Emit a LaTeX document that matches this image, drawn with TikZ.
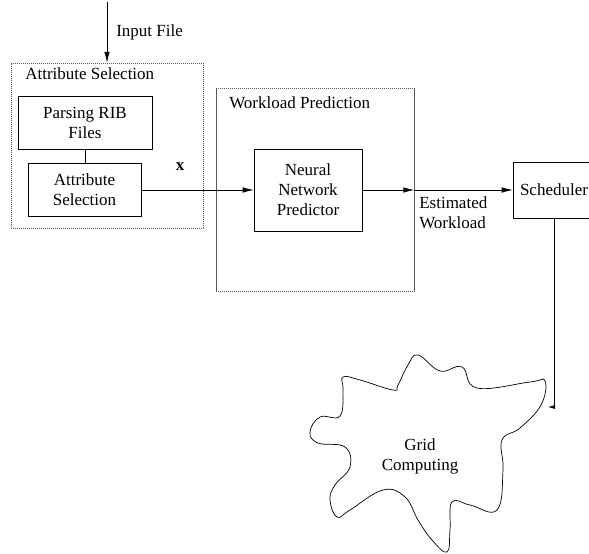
\documentclass[tikz,border=0pt]{standalone}
\usepackage{fontspec}
\setmainfont{Liberation Serif}
\usepackage{tikz}
\usetikzlibrary{calc,positioning,arrows.meta}

\begin{document}
\begin{tikzpicture}[
  x=1pt, y=-1pt,
  line width=0.6pt,
  procbox/.style={
    rectangle, draw, align=center, inner sep=2pt,
    font=\fontsize{17}{20}\selectfont,
  },
  groupbox/.style={
    rectangle, draw=black!65, line width=0.5pt,
    dash pattern=on 1.3pt off 0.7pt,
  },
  grouptitle/.style={anchor=west, inner sep=0pt, font=\fontsize{17}{20}\selectfont},
  flowlabel/.style={inner sep=0pt, font=\fontsize{17}{20}\selectfont},
  flow/.style={-{Latex[length=11pt,width=5.5pt]}},
]
\useasboundingbox (0,0) rectangle (589,554);
\clip (0,0) rectangle (589,554);

% Attribute selection group
\node[groupbox, minimum width=192pt, minimum height=165pt] (asgroup) at (107,145.5) {};
\node[grouptitle] (astitle) at (25,74) {Attribute Selection};
\node[procbox, minimum width=134pt, minimum height=53pt] (parse) at (85,122.5) {Parsing RIB\\Files};
\node[procbox, minimum width=113pt, minimum height=53pt] (attrsel) at (84.5,190) {Attribute\\Selection};
\draw (parse.south) -- (parse.south |- attrsel.north);

% Workload prediction group
\node[groupbox, minimum width=198pt, minimum height=203pt] (wpgroup) at (315,190) {};
\node[grouptitle] (wptitle) at (229,103) {Workload Prediction};
\node[procbox, minimum width=108pt, minimum height=82pt] (nn) at (308,190) {Neural\\Network\\Predictor};

% Scheduler
\node[procbox, minimum width=82pt, minimum height=56pt] (sched) at (554,190) {Scheduler};

% Grid cloud
\draw[line width=0.7pt] plot[smooth cycle, tension=0.7] coordinates {
  (418,355) (440,371) (462,367) (477,388) (530,382) (545,381)
  (541,405) (520,428) (502,440) (503,470) (497,510) (470,505)
  (452,502) (450,530) (447,552) (432,540) (418,520) (405,497)
  (383,490) (350,510) (337,517) (330,500) (335,485) (350,467)
  (345,447) (318,443) (310,432) (320,417) (340,416) (343,390)
  (343,377) (360,380) (393,390) (398,385) (408,365)};
\node[flowlabel, align=center] (grid) at (420,456) {Grid\\Computing};

% Connectors
\coordinate (infile) at (107,2);
\coordinate (cloudin) at (548,407);
\draw[flow] (infile) -- (asgroup.north)
  node[flowlabel, midway, right=9pt] (inlabel) {Input File};
\draw[flow] (attrsel.east) -- (nn.west);
\node[flowlabel, font=\fontsize{17}{20}\selectfont\bfseries] (xlabel) at (180,167) {x};
\draw[flow] (nn.east) -- (wpgroup.east);
\draw[flow] (wpgroup.east) -- (sched.west);
\node[flowlabel, anchor=north west, align=left] (estlabel) at (419,196) {Estimated\\Workload};
\draw[-{Latex[length=7pt,width=4pt]}] (sched.south) |- (cloudin);

\end{tikzpicture}
\end{document}
